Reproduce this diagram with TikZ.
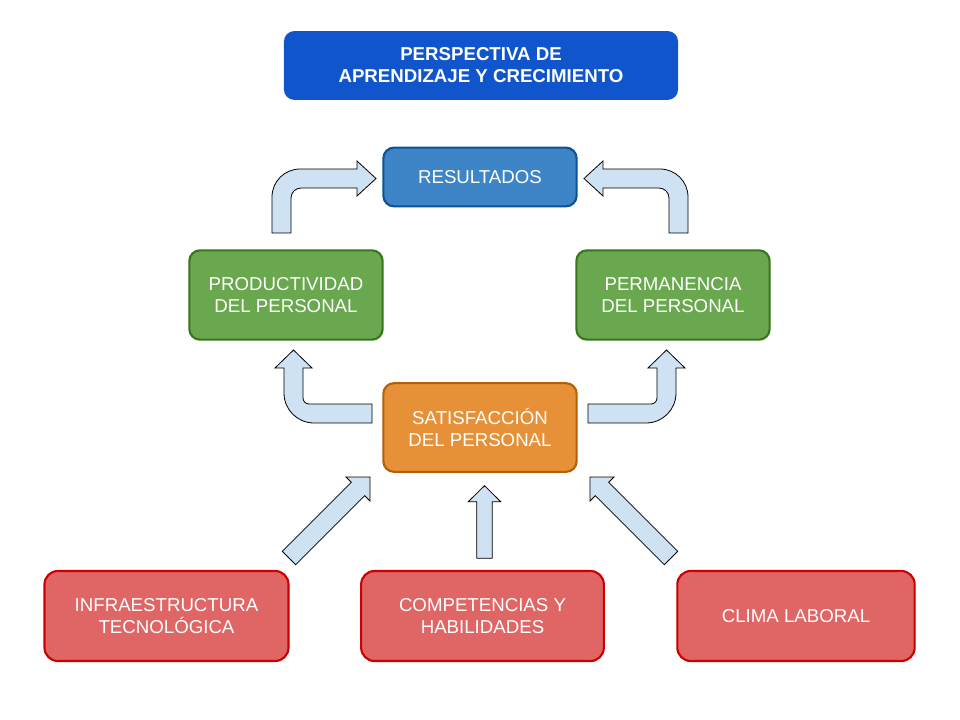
\documentclass[tikz,border=0pt]{standalone}
\usepackage{fontspec}
\setmainfont{Liberation Sans}
\begin{document}
\begin{tikzpicture}[x=0.75pt,y=-0.75pt]
\definecolor{titleblue}{HTML}{1155CC}
\definecolor{resfill}{HTML}{3D85C6}
\definecolor{resdraw}{HTML}{0B5394}
\definecolor{gfill}{HTML}{6AA84F}
\definecolor{gdraw}{HTML}{38761D}
\definecolor{ofill}{HTML}{E69138}
\definecolor{odraw}{HTML}{B45F06}
\definecolor{rfill}{HTML}{E06666}
\definecolor{rdraw}{HTML}{CC0000}
\definecolor{afill}{HTML}{CFE2F3}
\tikzset{
  box/.style={rectangle, rounded corners=8pt, line width=1.6pt, text=white,
    align=center, inner sep=0pt,
    font=\fontsize{14}{16.5}\selectfont},
  blockarrow/.style={fill=afill, draw=black, line width=0.6pt, line join=miter},
}
\useasboundingbox (0,0) rectangle (960,720);
\fill[white] (0,0) rectangle (960,720);

\node[box, fill=titleblue, draw=titleblue, rounded corners=7pt, minimum width=294pt, minimum height=50pt,
  font=\fontsize{14}{16.5}\selectfont\bfseries] (title) at (481,65.5) {PERSPECTIVA DE\\APRENDIZAJE Y CRECIMIENTO};
\node[box, fill=resfill, draw=resdraw, minimum width=145pt, minimum height=44pt] (res) at (480,177) {RESULTADOS};
\node[box, fill=gfill, draw=gdraw, minimum width=145pt, minimum height=67pt] (prod) at (286,295) {PRODUCTIVIDAD\\DEL PERSONAL};
\node[box, fill=gfill, draw=gdraw, minimum width=145pt, minimum height=67pt] (perm) at (673,295) {PERMANENCIA\\DEL PERSONAL};
\node[box, fill=ofill, draw=odraw, minimum width=145pt, minimum height=66.5pt] (sat) at (480,427.5) {SATISFACCIÓN\\DEL PERSONAL};
\node[box, fill=rfill, draw=rdraw, rounded corners=10pt, minimum width=183pt, minimum height=67.5pt] (infra) at (166.5,616) {INFRAESTRUCTURA\\TECNOLÓGICA};
\node[box, fill=rfill, draw=rdraw, rounded corners=10pt, minimum width=182pt, minimum height=67.5pt] (comp) at (482.5,616) {COMPETENCIAS Y\\HABILIDADES};
\node[box, fill=rfill, draw=rdraw, rounded corners=10pt, minimum width=178pt, minimum height=67.5pt] (clima) at (796,616) {CLIMA LABORAL};

% top-left bent arrow (prod -> res)
\draw[blockarrow] (272,233) -- (272,197) .. controls (272,181.5) and (284.5,169) .. (300,169)
  -- (357,169) -- (357,161) -- (376,178.5) -- (357,196) -- (357,188) -- (301,188)
  .. controls (295.5,188) and (291,192.5) .. (291,198) -- (291,233) -- cycle;
% top-right bent arrow (perm -> res)
\draw[blockarrow] (688,233) -- (688,197) .. controls (688,181.5) and (675.5,169) .. (660,169)
  -- (603,169) -- (603,161) -- (584,178.5) -- (603,196) -- (603,188) -- (659,188)
  .. controls (664.5,188) and (669,192.5) .. (669,198) -- (669,233) -- cycle;
% bottom-left bent arrow (sat -> prod)
\draw[blockarrow] (372,404) -- (309,404) .. controls (305.7,404) and (303,401.3) .. (303,398)
  -- (303,368) -- (312,368) -- (293.5,350) -- (275,368) -- (284,368) -- (284,393)
  .. controls (284,409.6) and (297.4,423) .. (314,423) -- (372,423) -- cycle;
% bottom-right bent arrow (sat -> perm)
\draw[blockarrow] (588,404) -- (651,404) .. controls (654.3,404) and (657,401.3) .. (657,398)
  -- (657,368) -- (648,368) -- (666.5,350) -- (685,368) -- (676,368) -- (676,393)
  .. controls (676,409.6) and (662.6,423) .. (646,423) -- (588,423) -- cycle;
% diagonal left (infra -> sat)
\draw[blockarrow] (282.3,551.3) -- (351.3,482.3) -- (346,477) -- (370,477) -- (370,501)
  -- (364.7,495.7) -- (295.7,564.7) -- cycle;
% diagonal right (clima -> sat)
\draw[blockarrow] (677.7,551.3) -- (608.7,482.3) -- (614,477) -- (590,477) -- (590,501)
  -- (595.3,495.7) -- (664.3,564.7) -- cycle;
% vertical center (comp -> sat)
\draw[blockarrow] (476.7,558.3) -- (476.7,501.7) -- (468.3,501.7) -- (484.5,485.7)
  -- (500.7,501.7) -- (492.3,501.7) -- (492.3,558.3) -- cycle;
\end{tikzpicture}
\end{document}
